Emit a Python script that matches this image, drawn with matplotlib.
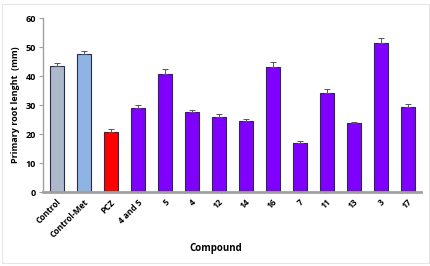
import matplotlib
matplotlib.use("Agg")
import matplotlib.pyplot as plt
from matplotlib.patches import Rectangle

categories = ["Control", "Control-Met", "PCZ", "4 and 5", "5", "4", "12", "14",
              "16", "7", "11", "13", "3", "17"]
values = [43.5, 47.5, 20.7, 29.0, 40.7, 27.7, 26.0, 24.5, 43.2, 16.8, 34.2, 23.7, 51.3, 29.4]
errors = [1.0, 1.3, 1.0, 1.0, 1.7, 0.5, 0.8, 0.6, 1.5, 0.7, 1.4, 0.6, 2.0, 1.0]
colors = ["#adb9ca", "#8eb4e3", "#ff0000"] + ["#7f00ff"] * 11

plt.rcParams['font.family'] = ['Open Sans', 'DejaVu Sans']
fig = plt.figure(figsize=(4.31, 2.66), dpi=100)
fig.patches.append(Rectangle((0.005, 0.01), 0.99, 0.975, transform=fig.transFigure,
                             fill=False, edgecolor="#e6e6e6", linewidth=0.8))
ax = fig.add_axes([0.1, 0.278, 0.877, 0.654])
x = list(range(len(categories)))
ax.bar(x, values, width=0.52, color=colors, edgecolor="#2a2a4a", linewidth=0.8, zorder=2)
ax.errorbar(x, values, yerr=[[0] * len(errors), errors], fmt="none", ecolor="#555555",
            elinewidth=0.7, capsize=2.5, capthick=0.7, zorder=3)
ax.set_xlim(-0.5, len(categories) - 0.5)
ax.set_ylim(0, 60)
ax.set_yticks(range(0, 61, 10))
ax.set_xticks(x)
ax.set_xticklabels(categories, rotation=45, ha="right", rotation_mode="anchor",
                   fontsize=6, fontweight="bold")
for lab in ax.get_yticklabels():
    lab.set_fontsize(6.5)
    lab.set_fontweight("bold")
ax.tick_params(axis="x", length=0, pad=4)
ax.tick_params(axis="y", length=3, width=0.8, color="#a0a0a0", pad=2)
for s in ["top", "right"]:
    ax.spines[s].set_visible(False)
ax.spines["left"].set_color("#a0a0a0")
ax.spines["left"].set_linewidth(1.0)
ax.spines["bottom"].set_color("#a0a0a0")
ax.spines["bottom"].set_linewidth(2.0)
ax.set_ylabel("Primary root lenght  (mm)", fontsize=6.5, fontweight="bold", labelpad=4)
fig.text(0.5, 0.065, "Compound", ha="center", va="center", fontsize=7, fontweight="bold")
fig.savefig("out.png", dpi=100)
